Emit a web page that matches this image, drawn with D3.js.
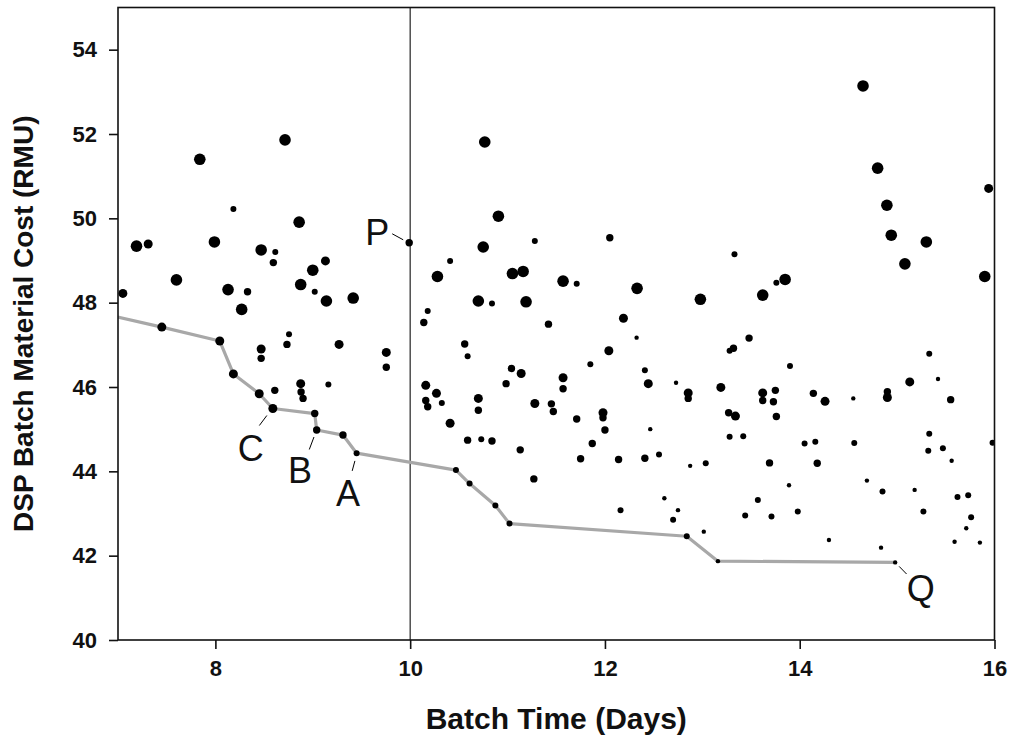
<!DOCTYPE html>
<html>
<head>
<meta charset="utf-8">
<script src="https://cdn.jsdelivr.net/npm/d3@7"></script>
<style>
  body { margin: 0; background: #fff; }
  svg { display: block; font-family: Arial, 'Liberation Sans', sans-serif; }
  .tick text { font-weight: bold; font-size: 22px; fill: #111; }
  .axis-title { font-weight: bold; fill: #111; }
  .mark-label { font-size: 36px; fill: #111; }
</style>
</head>
<body>
<svg id="chart" width="1013" height="738"></svg>
<script>
/******************* Data ***********************************/
// [batch time (days), material cost (RMU), size class 1..5]
var batches = [
  [7.84, 51.40, 5], [8.715, 51.86, 5], [8.185, 50.22, 2], [8.86, 49.91, 5],
  [7.19, 49.34, 5], [7.31, 49.39, 4], [7.99, 49.44, 5], [8.47, 49.25, 5],
  [8.615, 49.20, 2], [8.595, 48.95, 3], [9.13, 48.99, 4], [9.0, 48.77, 5],
  [7.60, 48.54, 5], [8.876, 48.43, 5], [9.02, 48.26, 2], [8.13, 48.31, 5],
  [8.33, 48.26, 3], [9.14, 48.04, 5], [9.415, 48.11, 5], [8.27, 47.84, 5],
  [7.05, 48.22, 4], [8.756, 47.25, 2], [8.735, 47.01, 3], [8.47, 46.90, 4],
  [8.47, 46.68, 3], [9.27, 47.01, 4], [9.755, 46.82, 4], [9.755, 46.47, 3],
  [8.876, 46.08, 4], [8.88, 45.88, 3], [8.90, 45.73, 3], [8.61, 45.92, 3],
  [9.16, 46.06, 2], [9.99, 49.42, 3],

  [10.766, 51.81, 5], [10.906, 50.05, 5], [12.05, 49.54, 3], [11.28, 49.46, 2],
  [10.75, 49.32, 5], [10.41, 48.99, 2], [10.28, 48.62, 5], [11.05, 48.69, 5],
  [11.16, 48.74, 5], [11.57, 48.51, 5], [11.71, 48.45, 2], [12.33, 48.34, 5],
  [12.98, 48.08, 5], [10.70, 48.04, 5], [10.84, 47.98, 2], [11.19, 48.02, 5],
  [10.18, 47.80, 2], [10.14, 47.53, 3], [11.42, 47.49, 3], [12.19, 47.63, 4],
  [12.325, 47.17, 1], [12.04, 46.86, 4], [10.56, 47.02, 3], [10.59, 46.73, 2],
  [11.85, 46.54, 2], [11.04, 46.44, 3], [11.14, 46.32, 4], [10.985, 46.08, 3],
  [11.57, 46.22, 4], [11.57, 45.96, 3], [12.41, 46.40, 2], [12.445, 46.08, 4],
  [12.73, 46.10, 1], [12.855, 45.86, 4], [12.855, 45.73, 3], [10.16, 46.04, 4],
  [10.27, 45.85, 4], [10.16, 45.68, 3], [10.18, 45.53, 3], [10.325, 45.62, 2],
  [10.70, 45.73, 4], [10.70, 45.45, 3], [11.28, 45.61, 4], [11.45, 45.60, 3],
  [11.47, 45.42, 3], [11.98, 45.39, 4], [11.98, 45.27, 3], [12.0, 44.98, 3],
  [12.465, 45.0, 1], [10.41, 45.14, 4], [11.71, 45.24, 3], [11.87, 44.66, 3],
  [10.59, 44.74, 3], [10.73, 44.76, 2], [10.84, 44.72, 3], [11.13, 44.51, 3],
  [11.75, 44.30, 3], [12.14, 44.28, 3], [12.41, 44.31, 3], [12.555, 44.40, 2],
  [12.875, 44.13, 1], [13.035, 44.19, 2], [11.27, 43.82, 3], [12.16, 43.08, 2],
  [12.61, 43.36, 1], [12.75, 43.08, 1], [12.70, 42.85, 2], [13.015, 42.57, 1],

  [14.65, 53.14, 5], [14.80, 51.19, 5], [14.895, 50.31, 5], [15.94, 50.71, 4],
  [14.94, 49.60, 5], [15.30, 49.44, 5], [15.08, 48.92, 5], [15.90, 48.62, 5],
  [13.33, 49.15, 2], [13.85, 48.55, 5], [13.76, 48.47, 2], [13.62, 48.18, 5],
  [13.48, 47.16, 3], [13.32, 46.92, 3], [13.28, 46.86, 2], [13.90, 46.50, 2],
  [15.33, 46.79, 2], [15.42, 46.19, 1], [15.13, 46.12, 4], [15.55, 45.70, 3],
  [13.19, 45.99, 4], [13.62, 45.86, 4], [13.75, 45.92, 3], [13.62, 45.68, 3],
  [13.73, 45.65, 3], [13.76, 45.30, 3], [14.14, 45.85, 3], [14.26, 45.66, 4],
  [14.55, 45.73, 1], [14.90, 45.89, 3], [14.90, 45.75, 4], [13.27, 45.39, 3],
  [13.34, 45.31, 4], [13.28, 44.82, 2], [13.42, 44.83, 2], [14.05, 44.66, 2],
  [14.16, 44.70, 2], [14.56, 44.67, 2], [15.33, 44.89, 2], [15.32, 44.49, 2],
  [15.47, 44.55, 2], [15.56, 44.25, 1], [15.98, 44.68, 2], [13.69, 44.20, 3],
  [14.18, 44.19, 3], [14.69, 43.78, 1], [14.85, 43.52, 2], [15.18, 43.56, 1],
  [13.89, 43.67, 1], [13.57, 43.32, 2], [13.44, 42.95, 2], [13.71, 42.93, 2],
  [13.98, 43.05, 2], [15.27, 43.05, 2], [15.62, 43.39, 2], [15.73, 43.43, 2],
  [15.76, 42.91, 2], [15.71, 42.65, 1], [15.59, 42.33, 1], [15.85, 42.31, 1],
  [14.30, 42.37, 1], [14.835, 42.19, 1]
];

// lowest cost for a given time (the grey trade-off line)
var frontier = [
  [6.8, 47.76, 3], [7.45, 47.42, 4], [8.045, 47.09, 4], [8.185, 46.31, 4],
  [8.45, 45.84, 4], [8.59, 45.49, 4], [9.02, 45.37, 3], [9.04, 44.98, 3],
  [9.31, 44.86, 3], [9.45, 44.43, 2], [10.47, 44.03, 2], [10.61, 43.71, 2],
  [10.875, 43.19, 2], [11.02, 42.76, 2], [12.84, 42.46, 2], [13.16, 41.87, 1],
  [14.98, 41.84, 1]
];

var markNames = ['P', 'C', 'B', 'A', 'Q'];
var markTimes = [9.99, 8.59, 9.04, 9.45, 14.98];
var markCosts = [49.42, 45.49, 44.98, 44.43, 41.84];

var xTicks = [8, 10, 12, 14, 16];
var yTicks = [40, 42, 44, 46, 48, 50, 52, 54];
var xDomain = [7, 16];
var yDomain = [40, 55];
var refTime = 10;

/******************* Chart **********************************/
var margin = { top: 7.5, left: 118, right: 18.5, bottom: 98 };
var svg = d3.select('#chart');
var W = +svg.attr('width') - margin.left - margin.right;
var H = +svg.attr('height') - margin.top - margin.bottom;

var x = d3.scaleLinear().domain(xDomain).range([0, W]);
var y = d3.scaleLinear().domain(yDomain).range([H, 0]);
var r = d3.scaleOrdinal().domain([1, 2, 3, 4, 5]).range([2.2, 3, 3.7, 4.5, 5.8]);

var g = svg.append('g').attr('transform', 'translate(' + margin.left + ',' + margin.top + ')');

g.append('clipPath').attr('id', 'plot-clip')
  .append('rect').attr('width', W).attr('height', H);

// reference line at 10 days
g.append('line')
  .attr('x1', x(refTime)).attr('x2', x(refTime))
  .attr('y1', 0).attr('y2', H)
  .attr('stroke', '#222').attr('stroke-width', 1.2);

var plot = g.append('g').attr('clip-path', 'url(#plot-clip)');

plot.append('path')
  .datum(frontier)
  .attr('fill', 'none')
  .attr('stroke', '#a8a8a8')
  .attr('stroke-width', 3.2)
  .attr('stroke-linejoin', 'round')
  .attr('d', d3.line().x(function(d) { return x(d[0]); }).y(function(d) { return y(d[1]); }));

plot.selectAll('circle.batch')
  .data(batches.concat(frontier))
  .enter().append('circle')
  .attr('class', 'batch')
  .attr('cx', function(d) { return x(d[0]); })
  .attr('cy', function(d) { return y(d[1]); })
  .attr('r', function(d) { return r(d[2]); })
  .attr('fill', '#000');

// labelled batches - offsets are hand placed
var labelOffsets = {
  P: { line: [-17, -9, -6, -3], text: [-32, 2] },
  C: { line: [-6, 7, -13.5, 17], text: [-22, 52] },
  B: { line: [-2.7, 7, -7.4, 19.5], text: [-16.7, 53] },
  A: { line: [-1.7, 7.7, -4.4, 17.7], text: [-8.7, 52.7] },
  Q: { line: [4, 4, 11.4, 11.6], text: [25.6, 39] }
};

markNames.forEach(function(name, i) {
  var px = x(markTimes[i]);
  var py = y(markCosts[i]);
  var o = labelOffsets[name];

  g.append('line')
    .attr('x1', px + o.line[0]).attr('y1', py + o.line[1])
    .attr('x2', px + o.line[2]).attr('y2', py + o.line[3])
    .attr('stroke', '#000').attr('stroke-width', 1);

  g.append('text')
    .attr('class', 'mark-label')
    .attr('x', px + o.text[0])
    .attr('y', py + o.text[1])
    .attr('text-anchor', 'middle')
    .text(name);
});

// frame
g.append('rect')
  .attr('width', W).attr('height', H)
  .attr('fill', 'none').attr('stroke', '#111').attr('stroke-width', 1.6);

var xAxis = g.append('g')
  .attr('transform', 'translate(0,' + H + ')')
  .call(d3.axisBottom(x).tickValues(xTicks).tickSize(9).tickPadding(11).tickFormat(d3.format('d')));

var yAxis = g.append('g')
  .call(d3.axisLeft(y).tickValues(yTicks).tickSize(9).tickPadding(12).tickFormat(d3.format('d')));

[xAxis, yAxis].forEach(function(a) {
  a.select('.domain').remove();
  a.selectAll('.tick line').attr('stroke', '#111').attr('stroke-width', 1.6);
  a.selectAll('.tick text').attr('font-family', null).attr('font-size', null);
});

svg.append('text')
  .attr('class', 'axis-title')
  .attr('x', margin.left + W / 2)
  .attr('y', 729)
  .attr('text-anchor', 'middle')
  .attr('font-size', 30)
  .text('Batch Time (Days)');

svg.append('text')
  .attr('class', 'axis-title')
  .attr('transform', 'translate(33,' + (margin.top + H / 2) + ') rotate(-90)')
  .attr('text-anchor', 'middle')
  .attr('font-size', 28)
  .text('DSP Batch Material Cost (RMU)');
</script>
</body>
</html>
